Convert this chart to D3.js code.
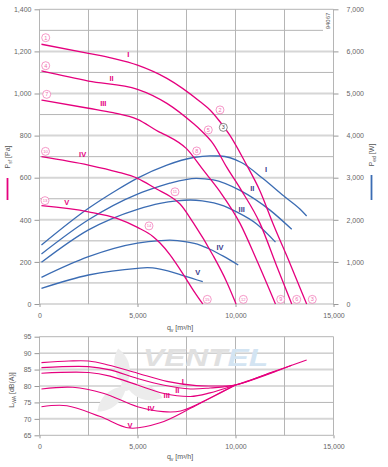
<!DOCTYPE html>
<html lang="en">
<head>
<meta charset="UTF-8">
<title>Fan curves</title>
<script src="https://d3js.org/d3.v7.min.js"></script>
<style>
  body { margin: 0; background: #fff; }
  text { font-family: "Liberation Sans", Arial, sans-serif; }
</style>
</head>
<body>
<script>
const speeds = ["I", "II", "III", "IV", "V"];
const qTicks = [0, 5000, 10000, 15000];
const pTicks = [0, 200, 400, 600, 800, 1000, 1200, 1400];
const wTicks = [0, 1000, 2000, 3000, 4000, 5000, 6000, 7000];
const lTicks = [65, 70, 75, 80, 85, 90, 95];

// static pressure [Pa] vs q [m3/h]
const pressI = [[100,1234],[2500,1191],[3750,1167],[5000,1135],[6500,1072],[8200,961],[8700,922],[9200,867],[9700,803],[10500,672],[11250,537],[11900,385],[12800,188],[13630,0]];
const pressII = [[100,1107],[2500,1059],[5000,1020],[6500,953],[7850,857],[8200,828],[8870,760],[9550,650],[10300,540],[11250,383],[12070,188],[12870,0]];
const pressIII = [[100,969],[2500,930],[3750,909],[5000,877],[6150,815],[6500,800],[7500,738],[8350,637],[9200,535],[10230,383],[11080,209],[12040,0]];
const pressIV = [[100,700],[2500,660],[3950,628],[5000,597],[6000,545],[6650,512],[7170,475],[7850,385],[8870,228],[9550,105],[10030,0]];
const pressV = [[100,467],[2500,438],[3950,407],[5000,364],[5800,320],[6150,290],[6650,235],[7170,165],[7850,65],[8330,0]];

// input power [W]
const powerI = [[100,1400],[2500,2273],[3950,2708],[5000,2990],[6500,3300],[7850,3480],[8700,3520],[9200,3515],[10300,3360],[11400,2980],[12450,2570],[13300,2250],[13630,2090]];
const powerII = [[100,1188],[2500,2000],[5000,2610],[6150,2800],[6650,2870],[8000,2986],[8870,2950],[10230,2700],[11760,2230],[12870,1774]];
const powerIII = [[100,990],[2500,1760],[5000,2250],[6150,2392],[7000,2450],[7700,2470],[8300,2450],[9400,2330],[10000,2200],[11080,1900],[12040,1470]];
const powerIV = [[100,634],[2500,1124],[5000,1445],[6150,1504],[6650,1515],[7500,1475],[8190,1400],[8700,1300],[9400,1130],[10140,926]];
const powerV = [[100,372],[2500,689],[5000,848],[5500,862],[6150,830],[7420,665],[8330,530]];

// sound power level [dB(A)]
const soundI = [[100,87.1],[1500,87.6],[2500,87.6],[3500,86.4],[5000,83.9],[6500,81.4],[8000,80.1],[9000,80.0],[10000,80.3],[11800,84.1],[13630,87.9]];
const soundII = [[100,85.6],[2500,85.9],[3600,84.9],[5000,82.3],[6300,80.3],[7700,79.1],[8700,79.4],[10000,80.3],[12870,86.3]];
const soundIII = [[100,83.9],[2500,84.1],[3600,83.0],[5000,80.3],[6300,77.8],[7700,76.8],[8700,77.9],[10000,80.3],[12040,84.5]];
const soundIV = [[100,79.1],[1700,79.6],[3250,77.8],[5000,73.7],[6300,72.2],[7200,72.4],[8800,76.6],[10000,80.3]];
const soundV = [[100,73.7],[1400,74.0],[3100,70.7],[4600,67.2],[6150,68.8],[7700,73.2],[9000,77.3],[10000,80.3]];

const pressure = [pressI, pressII, pressIII, pressIV, pressV];
const power = [powerI, powerII, powerIII, powerIV, powerV];
const sound = [soundI, soundII, soundIII, soundIV, soundV];

// label anchors in data units
const pressLabelAt = [[4530,1183],[3680,1069],[3255,952],[2200,708],[1390,481]];
const powerLabelAt = [[11556,3200],[10857,2732],[10316,2249],[9209,1347],[8071,753]];
const soundLabelAt = [[7306,81.5],[7031,78.6],[6490,77.2],[5689,73.1],[4617,67.9]];
const points = [
  [1,316,1265],[2,9209,922],[3,13918,22],
  [4,316,1132],[5,8612,827],[6,13122,22],
  [7,367,996],[8,8020,727],[9,12306,22],
  [10,306,725],[11,6913,533],[12,10398,22],
  [13,280,491],[14,5587,371],[15,8561,22]
];
const markPoint = [3, 9378, 839];

const width = 388, height = 467;
const pink = "#e5007e", blue = "#3b6cb3", navy = "#3a3a8c";

const svg = d3.select("body").append("svg")
  .attr("width", width).attr("height", height)
  .style("background", "#fff");

const x = d3.scaleLinear().domain([0, 15000]).range([39.5, 333.5]);
const yP = d3.scaleLinear().domain([0, 1400]).range([304, 9.3]);
const yW = d3.scaleLinear().domain([0, 7000]).range([304, 9.3]);
const yL = d3.scaleLinear().domain([65, 95]).range([435.3, 336.7]);

// grid - top
const grid = svg.append("g");
grid.selectAll(".hp").data(d3.range(0, 1401, 100)).enter().append("line")
  .attr("x1", x(0))
  .attr("x2", d => d === 1300 ? 323 : x(15000))
  .attr("y1", d => yP(d)).attr("y2", d => yP(d))
  .attr("stroke", d => (d % 200 === 0 && d > 0 && d < 1400) ? "#d6d6d6" : "#b5b5b5")
  .attr("stroke-width", d => (d % 200 === 0 && d > 0 && d < 1400) ? 2 : 1);
grid.selectAll(".vp").data(d3.range(0, 15001, 2500)).enter().append("line")
  .attr("x1", d => x(d)).attr("x2", d => x(d))
  .attr("y1", yP(1400)).attr("y2", yP(0))
  .attr("stroke", "#b5b5b5");
// grid - bottom
grid.selectAll(".hl").data(lTicks).enter().append("line")
  .attr("x1", x(0)).attr("x2", x(15000))
  .attr("y1", d => yL(d)).attr("y2", d => yL(d))
  .attr("stroke", d => (d === 70 || d === 85) ? "#d6d6d6" : "#b5b5b5")
  .attr("stroke-width", d => (d === 70 || d === 85) ? 2 : 1);
grid.selectAll(".vl").data(d3.range(0, 15001, 2500)).enter().append("line")
  .attr("x1", d => x(d)).attr("x2", d => x(d))
  .attr("y1", yL(95)).attr("y2", yL(65))
  .attr("stroke", "#b5b5b5");

// watermark
const wm = svg.append("g");
[-25, 95, 215].forEach(function (a) {
  wm.append("path")
    .attr("d", "M0,0 C-6,-10 -4,-26 8,-34 C14,-22 12,-10 0,0 Z")
    .attr("fill", "#ececec")
    .attr("transform", "translate(126,386) rotate(" + a + ") scale(1.1)");
});
wm.append("circle").attr("cx", 126).attr("cy", 386).attr("r", 5).attr("fill", "#ececec");
const wmText = wm.append("text")
  .attr("x", 143).attr("y", 366)
  .attr("font-size", 24).attr("font-weight", "bold").attr("font-style", "italic")
  .attr("textLength", 125).attr("lengthAdjust", "spacingAndGlyphs");
wmText.append("tspan").attr("fill", "#e0e0e0").text("VENT");
wmText.append("tspan").attr("fill", "#d3e4f2").text("EL");

// axes
function styleAxis(g) {
  g.select(".domain").remove();
  g.selectAll(".tick line").attr("stroke", "#999");
  g.selectAll(".tick text").attr("fill", "#666").attr("font-size", 7)
    .style("font-family", "'Liberation Sans', Arial, sans-serif");
}
const fmt = d3.format(",");
svg.append("g").attr("transform", "translate(39.5,0)")
  .call(d3.axisLeft(yP).tickValues(pTicks).tickFormat(fmt).tickSize(5).tickPadding(3))
  .call(styleAxis);
svg.append("g").attr("transform", "translate(333.5,0)")
  .call(d3.axisRight(yW).tickValues(wTicks).tickFormat(fmt).tickSize(5).tickPadding(8))
  .call(styleAxis);
svg.append("g").attr("transform", "translate(0,304)")
  .call(d3.axisBottom(x).tickValues(qTicks).tickFormat(fmt).tickSize(3).tickPadding(6))
  .call(styleAxis);
svg.append("g").attr("transform", "translate(39.5,0)")
  .call(d3.axisLeft(yL).tickValues(lTicks).tickSize(5).tickPadding(3))
  .call(styleAxis);
svg.append("g").attr("transform", "translate(0,435.3)")
  .call(d3.axisBottom(x).tickValues(qTicks).tickFormat(fmt).tickSize(3).tickPadding(6))
  .call(styleAxis);

// curves
const lineP = d3.line().x(d => x(d[0])).y(d => yP(d[1])).curve(d3.curveMonotoneX);
const lineW = d3.line().x(d => x(d[0])).y(d => yW(d[1])).curve(d3.curveMonotoneX);
const lineL = d3.line().x(d => x(d[0])).y(d => yL(d[1])).curve(d3.curveCatmullRom.alpha(0.5));

svg.append("g").selectAll("path").data(power).enter().append("path")
  .attr("d", lineW).attr("fill", "none").attr("stroke", blue).attr("stroke-width", 1.3);
svg.append("g").selectAll("path").data(pressure).enter().append("path")
  .attr("d", lineP).attr("fill", "none").attr("stroke", pink).attr("stroke-width", 1.3);
svg.append("g").selectAll("path").data(sound).enter().append("path")
  .attr("d", lineL).attr("fill", "none").attr("stroke", pink).attr("stroke-width", 1.1);

// roman labels
svg.append("g").selectAll("text").data(pressLabelAt).enter().append("text")
  .attr("x", d => x(d[0])).attr("y", d => yP(d[1]))
  .attr("text-anchor", "middle").attr("dominant-baseline", "central")
  .attr("font-size", 7.5).attr("font-weight", "bold").attr("fill", pink)
  .text((d, i) => speeds[i]);
svg.append("g").selectAll("text").data(powerLabelAt).enter().append("text")
  .attr("x", d => x(d[0])).attr("y", d => yW(d[1]))
  .attr("text-anchor", "middle").attr("dominant-baseline", "central")
  .attr("font-size", 7.5).attr("font-weight", "bold").attr("fill", navy)
  .text((d, i) => speeds[i]);
svg.append("g").selectAll("text").data(soundLabelAt).enter().append("text")
  .attr("x", d => x(d[0])).attr("y", d => yL(d[1]))
  .attr("text-anchor", "middle").attr("dominant-baseline", "central")
  .attr("font-size", 7.5).attr("font-weight", "bold").attr("fill", pink)
  .text((d, i) => speeds[i]);

// circled point numbers
const pts = svg.append("g").selectAll("g").data(points.concat([markPoint])).enter().append("g")
  .attr("transform", d => "translate(" + x(d[1]) + "," + yP(d[2]) + ")");
pts.append("circle").attr("r", 4).attr("fill", "#fff")
  .attr("stroke", (d, i) => i === points.length ? "#555" : "#f06db0").attr("stroke-width", 0.7);
pts.append("text").attr("text-anchor", "middle").attr("dominant-baseline", "central")
  .attr("font-size", d => d[0] > 9 ? 4.2 : 5.5)
  .attr("fill", (d, i) => i === points.length ? "#444" : "#f06db0")
  .text(d => d[0]);

// axis titles
function title(g, main, sub, rest) {
  g.append("tspan").text(main);
  g.append("tspan").attr("font-size", 5).attr("dy", 1.5).text(sub);
  g.append("tspan").attr("dy", -1.5).text(rest);
}
svg.append("text").attr("transform", "translate(10,157) rotate(-90)")
  .attr("text-anchor", "middle").attr("font-size", 7).attr("fill", "#555")
  .call(title, "P", "sf", " [Pa]");
svg.append("line").attr("x1", 7.5).attr("x2", 7.5).attr("y1", 178).attr("y2", 200)
  .attr("stroke", pink).attr("stroke-width", 1.8);
svg.append("text").attr("transform", "translate(374,155) rotate(-90)")
  .attr("text-anchor", "middle").attr("font-size", 7).attr("fill", "#555")
  .call(title, "P", "ed", " [W]");
svg.append("line").attr("x1", 371.5).attr("x2", 371.5).attr("y1", 175).attr("y2", 200)
  .attr("stroke", blue).attr("stroke-width", 1.8);
svg.append("text").attr("transform", "translate(14,390) rotate(-90)")
  .attr("text-anchor", "middle").attr("font-size", 7).attr("fill", "#555")
  .call(title, "L", "WA", " [dB(A)]");
svg.append("text").attr("x", 180).attr("y", 330)
  .attr("text-anchor", "middle").attr("font-size", 7).attr("fill", "#555")
  .call(title, "q", "v", " [m³/h]");
svg.append("text").attr("x", 180).attr("y", 459)
  .attr("text-anchor", "middle").attr("font-size", 7).attr("fill", "#555")
  .call(title, "q", "v", " [m³/h]");
svg.append("text").attr("transform", "translate(330,21) rotate(-90)")
  .attr("text-anchor", "middle").attr("font-size", 6).attr("fill", "#555")
  .text("94067");
</script>
</body>
</html>
